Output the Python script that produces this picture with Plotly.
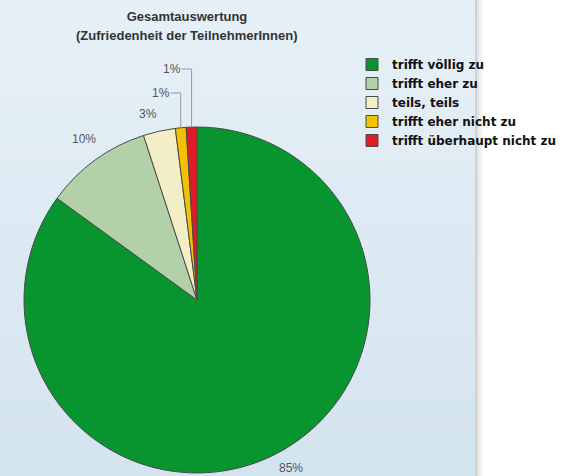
import math
import plotly.graph_objects as go

# ---- data ----
categories = ["trifft völlig zu", "trifft eher zu", "teils, teils",
              "trifft eher nicht zu", "trifft überhaupt nicht zu"]
values = [85, 10, 3, 1, 1]
label_texts = ["85%", "10%", "3%", "1%", "1%"]
colors = ["#08952f", "#b2d1a9", "#f3eec6", "#f2c100", "#e11b25"]
title_lines = ["Gesamtauswertung", "(Zufriedenheit der TeilnehmerInnen)"]

W, H = 579, 476
CX, CY, R = 197, 300, 173  # pie geometry in pixels (layout)

fig = go.Figure()
fig.add_trace(go.Pie(
    labels=categories, values=values, sort=False, direction="clockwise",
    rotation=0, marker=dict(colors=colors, line=dict(color="#4a4a4a", width=1)),
    textinfo="none", hoverinfo="label+percent",
    domain=dict(x=[(CX - R) / W, (CX + R) / W], y=[1 - (CY + R) / H, 1 - (CY - R) / H]),
))

def px2paper(x, y):
    return x / W, 1 - y / H

label_font = dict(family="Liberation Sans, Arial", size=12, color="#555")
annotations = []
shapes = []
total = sum(values)
cum = 0
small_k = 0
for i, v in enumerate(values):
    mid = (cum + v / 2) / total * 2 * math.pi
    cum += v
    frac = v / total
    if frac >= 0.02:
        big = frac > 0.05
        rr = R * (1.15 if big else 1.1)
        x = CX + rr * math.sin(mid)
        y = min(CY - rr * math.cos(mid), H - 8)
        px, py = px2paper(x, y)
        annotations.append(dict(x=px, y=py, xref="paper", yref="paper", text=label_texts[i],
                                showarrow=False, xanchor="center" if big else "right",
                                xshift=4,
                                yanchor="middle", font=label_font))
    else:
        small_k += 1
        ex = CX + R * math.sin(mid)
        ey = CY - R * math.cos(mid)
        ly = CY - R - 10 - 24 * small_k
        lx = ex - 10
        x0, y0 = px2paper(ex, ey)
        x1, y1 = px2paper(ex, ly)
        x2, y2 = px2paper(lx, ly)
        shapes.append(dict(type="path", xref="paper", yref="paper",
                           path=f"M {x0} {y0} L {x1} {y1} L {x2} {y2}",
                           line=dict(color="#999999", width=1)))
        annotations.append(dict(x=x2, y=y2, xref="paper", yref="paper", text=label_texts[i],
                                showarrow=False, xanchor="right", yanchor="middle",
                                xshift=1, font=label_font))

# second title line
annotations.append(dict(x=187 / W, y=1 - 36 / H, xref="paper", yref="paper",
                        text="<b>" + title_lines[1] + "</b>", showarrow=False,
                        xanchor="center", yanchor="middle",
                        font=dict(family="Liberation Sans, Arial", size=13, color="#333")))

# background panel with vertical gradient
panel_right = 475 / W
bg_shapes = []
n = 24
top_c = (230, 240, 247)
bot_c = (212, 228, 239)
for j in range(n):
    t = j / (n - 1)
    c = tuple(round(top_c[k] + (bot_c[k] - top_c[k]) * t) for k in range(3))
    bg_shapes.append(dict(type="rect", xref="paper", yref="paper", x0=0, x1=panel_right,
                          y0=1 - (j + 1) / n, y1=1 - j / n + 0.002,
                          fillcolor=f"rgb{c}", line=dict(width=0), layer="below"))
for j, op in enumerate([0.18, 0.11, 0.06, 0.03]):
    bg_shapes.append(dict(type="rect", xref="paper", yref="paper",
                          x0=(475 + 2 * j) / W, x1=(477 + 2 * j) / W, y0=0, y1=1,
                          fillcolor=f"rgba(0,0,0,{op})", line=dict(width=0), layer="below"))

fig.update_layout(
    width=W, height=H, margin=dict(l=0, r=0, t=0, b=0),
    paper_bgcolor="white", plot_bgcolor="rgba(0,0,0,0)",
    title=dict(text="<b>" + title_lines[0] + "</b>",
               x=187 / W, xanchor="center", y=1 - 16 / H, yanchor="middle",
               font=dict(family="Liberation Sans, Arial", size=13, color="#333")),
    legend=dict(x=352 / W, y=1 - 50 / H, xanchor="left", yanchor="top",
                bgcolor="rgba(0,0,0,0)",
                font=dict(family="DejaVu Sans", size=12, color="#111", weight="bold"),
                itemwidth=30, tracegroupgap=0),
    shapes=bg_shapes + shapes,
    annotations=annotations,
)

fig.write_html("out.html", post_script="document.body.style.margin='0px';",
               config={"displayModeBar": False})
